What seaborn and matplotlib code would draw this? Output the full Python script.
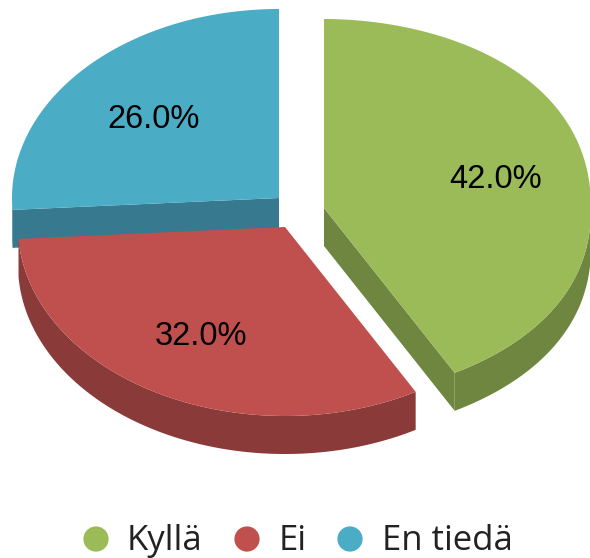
import numpy as np
import matplotlib
matplotlib.use("Agg")
import matplotlib.pyplot as plt
import pandas as pd
import seaborn as sns

# data
labels = ["Kyllä", "Ei", "En tiedä"]
shares = [42.0, 32.0, 26.0]
value_labels = ["42.0%", "32.0%", "26.0%"]

colors = ["#9BBB59", "#C0504D", "#4BACC6"]
dark_colors = ["#6F8640", "#8A3A38", "#37798E"]

# apex of each exploded slice, in pixels
centers = [(324, 208), (285, 227), (279, 198)]
rx, ry = 267, 189
depth = 38
label_pos = [(496, 176), (201, 333), (154, 116)]
dot_x = [96, 247, 350]
text_x = [127, 279, 382]
legend_base = 549.5


def rim(cx, cy, a):
    # a = degrees clockwise from 12 o'clock
    a = np.asarray(a, dtype=float)
    r = np.radians(a)
    u, v = np.sin(r), -np.cos(r)
    # the 3D view makes the right side a bit fuller than a plain ellipse
    p = 1 - 0.07 * np.where(a < 150.7, np.sin(np.pi * a / 150.7), 0)
    u = np.sign(u) * np.abs(u) ** p
    v = np.sign(v) * np.abs(v) ** p
    return cx + rx * u, cy + ry * v


sns.set_theme(style="white")
fig = plt.figure(figsize=(5.9, 5.58), dpi=100)
ax = fig.add_axes([0, 0, 1, 1])

edges = np.cumsum([0] + shares) * 3.6
edges[1] -= 0.5  # view distortion at the green/red cut
z = {0: 2, 1: 3, 2: 1}
for i in range(3):
    cx, cy = centers[i]
    a0, a1 = edges[i], edges[i + 1]
    t = np.linspace(a0, a1, 300)
    xs, ys = rim(cx, cy, t)

    # outer wall, only the part facing front
    front = t[(t >= 90) & (t <= 270)]
    if len(front):
        fx, fy = rim(cx, cy, front)
        ax.fill(np.r_[fx, fx[::-1]], np.r_[fy, fy[::-1] + depth],
                color=dark_colors[i], lw=0, zorder=z[i])

    # cut faces
    if i == 0:
        ex, ey = rim(cx, cy, a1)
        ax.fill([cx, ex, ex, cx], [cy, ey, ey + depth, cy + depth],
                color=dark_colors[i], lw=0, zorder=z[i])
    if i == 2:
        ex, ey = rim(cx, cy, a0)
        ax.fill([cx, ex, ex, cx], [cy, ey, ey + depth, cy + depth],
                color=dark_colors[i], lw=0, zorder=z[i])

    ax.fill(np.r_[cx, xs], np.r_[cy, ys], color=colors[i], lw=0, zorder=z[i] + 0.5)
    ax.text(label_pos[i][0], label_pos[i][1], value_labels[i], ha="center", va="center_baseline",
            fontsize=23.5, family="Liberation Sans", color="black", zorder=5)

legend_df = pd.DataFrame({"x": dot_x, "y": [539] * 3, "label": labels})
sns.scatterplot(data=legend_df, x="x", y="y", hue="label", palette=colors, s=330,
                linewidth=0, legend=False, ax=ax)
ax.set_xlim(0, 590)
ax.set_ylim(558, 0)
ax.axis("off")
for x, lab in zip(text_x, labels):
    ax.text(x, legend_base, lab, ha="left", va="baseline", fontsize=25,
            family="Open Sans", color="#222222")

fig.savefig("out.png", dpi=100)
